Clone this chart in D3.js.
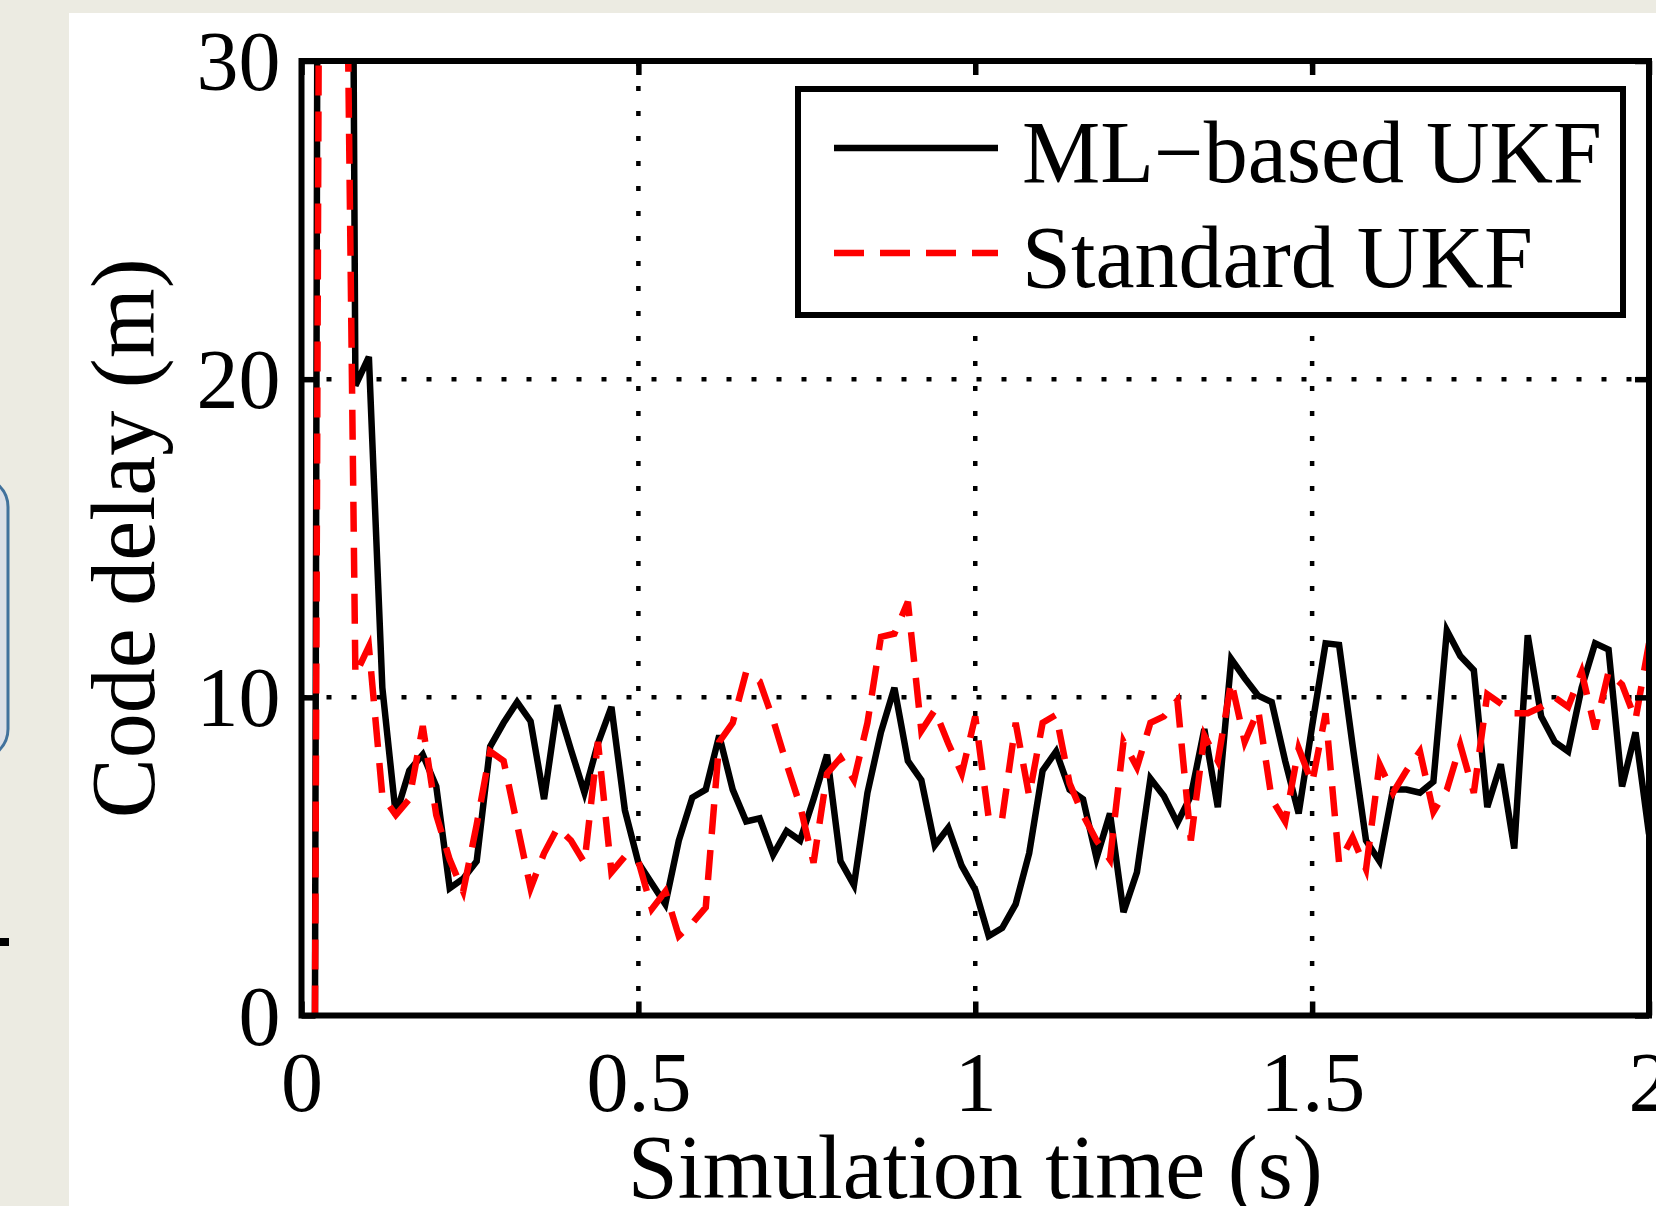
<!DOCTYPE html>
<html>
<head>
<meta charset="utf-8">
<script src="https://cdn.jsdelivr.net/npm/d3@7"></script>
<style>
  html, body { margin: 0; padding: 0; background: #ecebe2; }
  svg { display: block; }
  text { font-family: "Liberation Serif", "Times New Roman", serif; fill: #000; }
</style>
</head>
<body>
<svg id="chart"></svg>
<script>
// sample times (s), one every 0.02 s
const timeS = [
  0.02, 0.04, 0.06, 0.08, 0.10, 0.12, 0.14, 0.16, 0.18, 0.20,
  0.22, 0.24, 0.26, 0.28, 0.30, 0.32, 0.34, 0.36, 0.38, 0.40,
  0.42, 0.44, 0.46, 0.48, 0.50, 0.52, 0.54, 0.56, 0.58, 0.60,
  0.62, 0.64, 0.66, 0.68, 0.70, 0.72, 0.74, 0.76, 0.78, 0.80,
  0.82, 0.84, 0.86, 0.88, 0.90, 0.92, 0.94, 0.96, 0.98, 1.00,
  1.02, 1.04, 1.06, 1.08, 1.10, 1.12, 1.14, 1.16, 1.18, 1.20,
  1.22, 1.24, 1.26, 1.28, 1.30, 1.32, 1.34, 1.36, 1.38, 1.40,
  1.42, 1.44, 1.46, 1.48, 1.50, 1.52, 1.54, 1.56, 1.58, 1.60,
  1.62, 1.64, 1.66, 1.68, 1.70, 1.72, 1.74, 1.76, 1.78, 1.80,
  1.82, 1.84, 1.86, 1.88, 1.90, 1.92, 1.94, 1.96, 1.98, 2.00
];

// code delay (m), ML-based UKF
const mlUkf = [
  0, 180, 97, 19.8, 20.7, 10.3, 6.3, 7.7, 8.2, 7.2,
  4.0, 4.3, 4.85, 8.45, 9.2, 9.85, 9.25, 6.8, 9.75, 8.35,
  7.0, 8.55, 9.7, 6.45, 4.8, 4.15, 3.5, 5.5, 6.85, 7.1,
  8.8, 7.1, 6.1, 6.2, 5.05, 5.8, 5.5, 6.8, 8.2, 4.85,
  4.1, 7.0, 8.9, 10.3, 8.0, 7.4, 5.35, 5.9, 4.7, 3.95,
  2.5, 2.75, 3.5, 5.1, 7.7, 8.3, 7.1, 6.8, 4.95, 6.35,
  3.25, 4.5, 7.45, 6.9, 6.05, 6.9, 9.0, 6.55, 11.2, 10.6,
  10.05, 9.85, 8.0, 6.35, 9.1, 11.7, 11.65, 8.5, 5.5, 4.85,
  7.1, 7.1, 7.0, 7.35, 12.1, 11.3, 10.85, 6.55, 7.9, 5.25,
  11.95, 9.4, 8.6, 8.3, 10.3, 11.7, 11.5, 7.2, 8.9, 5.7
];

// code delay (m), standard UKF
const standardUkf = [
  0, 110, 47, 10.7, 11.6, 6.9, 6.3, 6.8, 9.1, 6.3,
  4.9, 3.9, 6.0, 8.3, 8.0, 6.0, 4.0, 5.1, 5.9, 5.5,
  4.8, 8.6, 4.5, 5.0, 4.85, 3.35, 3.9, 2.5, 2.9, 3.4,
  8.6, 9.2, 10.8, 10.5, 9.3, 7.9, 6.6, 4.8, 7.6, 8.1,
  7.4, 9.2, 11.9, 12.0, 13.0, 8.95, 9.6, 8.55, 7.6, 9.4,
  6.2, 6.2, 9.2, 6.9, 9.2, 9.45, 7.3, 6.3, 5.5, 4.9,
  8.6, 7.8, 9.2, 9.4, 9.9, 5.5, 8.8, 8.0, 10.5, 8.6,
  9.6, 6.8, 6.1, 8.4, 7.3, 9.5, 4.8, 5.6, 4.6, 7.9,
  7.0, 7.7, 8.3, 6.4, 7.1, 8.5, 7.0, 10.1, 9.8, 9.5,
  9.5, 9.7, 10.0, 9.7, 10.8, 9.0, 10.8, 10.4, 9.3, 11.7
];

const xTicks = [0, 0.5, 1, 1.5, 2];
const xTickLabels = ["0", "0.5", "1", "1.5", "2"];
const yTicks = [0, 10, 20, 30];
const yTickLabels = ["0", "10", "20", "30"];
const seriesNames = ["ML\u2212based UKF", "Standard UKF"];

const W = 1656, H = 1206;
const plot = { left: 301.5, right: 1649, top: 61, bottom: 1015.5 };
const lineWidth = 6.5;
const redDash = "30,16";

const svg = d3.select("#chart").attr("width", W).attr("height", H);

// slide backdrop and white panel the figure sits on
svg.append("rect").attr("width", W).attr("height", H).attr("fill", "#ecebe2");
svg.append("rect")
  .attr("x", 69).attr("y", 13)
  .attr("width", W - 69).attr("height", H - 13)
  .attr("fill", "#fff");

// edges of other slide shapes peeking in on the left
svg.append("rect")
  .attr("x", -60).attr("y", 477)
  .attr("width", 68).attr("height", 282)
  .attr("rx", 30)
  .attr("fill", "#dcdfe6")
  .attr("stroke", "#41719c")
  .attr("stroke-width", 3);
svg.append("rect")
  .attr("x", 0).attr("y", 938)
  .attr("width", 9).attr("height", 8)
  .attr("fill", "#000");

const x = d3.scaleLinear().domain([0, 2]).range([plot.left, plot.right]);
const y = d3.scaleLinear().domain([0, 30]).range([plot.bottom, plot.top]);

// dotted grid
const grid = svg.append("g")
  .attr("stroke", "#000")
  .attr("stroke-width", 4.5)
  .attr("stroke-dasharray", "5,20");

grid.selectAll(".gx")
  .data(xTicks.slice(1, -1))
  .join("line")
  .attr("class", "gx")
  .attr("x1", d => x(d)).attr("x2", d => x(d))
  .attr("y1", plot.top).attr("y2", plot.bottom);

grid.selectAll(".gy")
  .data(yTicks.slice(1, -1))
  .join("line")
  .attr("class", "gy")
  .attr("x1", plot.left).attr("x2", plot.right)
  .attr("y1", d => y(d)).attr("y2", d => y(d));

// data lines, clipped to the axes box
svg.append("clipPath").attr("id", "plot-clip")
  .append("rect")
  .attr("x", plot.left).attr("y", plot.top)
  .attr("width", plot.right - plot.left)
  .attr("height", plot.bottom - plot.top);

const rows = timeS.map((t, i) => ({ t: t, ml: mlUkf[i], std: standardUkf[i] }));

const lineFor = key => d3.line()
  .x(d => x(d.t))
  .y(d => y(d[key]));

const lines = svg.append("g").attr("clip-path", "url(#plot-clip)");

lines.append("path")
  .datum(rows)
  .attr("fill", "none")
  .attr("stroke", "#000")
  .attr("stroke-width", lineWidth)
  .attr("stroke-linejoin", "miter")
  .attr("d", lineFor("ml"));

lines.append("path")
  .datum(rows)
  .attr("fill", "none")
  .attr("stroke", "#ff0000")
  .attr("stroke-width", lineWidth)
  .attr("stroke-dasharray", redDash)
  .attr("d", lineFor("std"));

// axes: inward ticks on all four sides, labels only bottom/left
const tickLen = 14;

function styleTicks(g) {
  g.select(".domain").remove();
  g.selectAll(".tick line").attr("stroke", "#000").attr("stroke-width", 5.5);
}

const xAxis = svg.append("g")
  .attr("transform", `translate(0,${plot.bottom})`)
  .call(d3.axisBottom(x).tickValues(xTicks).tickSizeInner(-tickLen).tickSizeOuter(0)
    .tickFormat((d, i) => xTickLabels[i]))
  .call(styleTicks);
xAxis.selectAll(".tick text")
  .attr("y", 95).attr("dy", null)
  .attr("font-size", 84)
  .attr("font-family", "Liberation Serif, serif")
  .attr("fill", "#000");

const yAxis = svg.append("g")
  .attr("transform", `translate(${plot.left},0)`)
  .call(d3.axisLeft(y).tickValues(yTicks).tickSizeInner(-tickLen).tickSizeOuter(0)
    .tickFormat((d, i) => yTickLabels[i]))
  .call(styleTicks);
yAxis.selectAll(".tick text")
  .attr("x", -21).attr("dy", "0.34em")
  .attr("font-size", 84)
  .attr("font-family", "Liberation Serif, serif")
  .attr("fill", "#000");

svg.append("g")
  .attr("transform", `translate(0,${plot.top})`)
  .call(d3.axisTop(x).tickValues(xTicks).tickSizeInner(-tickLen).tickSizeOuter(0).tickFormat(""))
  .call(styleTicks);

svg.append("g")
  .attr("transform", `translate(${plot.right},0)`)
  .call(d3.axisRight(y).tickValues(yTicks).tickSizeInner(-tickLen).tickSizeOuter(0).tickFormat(""))
  .call(styleTicks);

// box
svg.append("rect")
  .attr("x", plot.left).attr("y", plot.top)
  .attr("width", plot.right - plot.left)
  .attr("height", plot.bottom - plot.top)
  .attr("fill", "none")
  .attr("stroke", "#000")
  .attr("stroke-width", 6);

// axis titles
svg.append("text")
  .attr("x", (plot.left + plot.right) / 2)
  .attr("y", 1198)
  .attr("text-anchor", "middle")
  .attr("font-size", 90)
  .text("Simulation time (s)");

svg.append("text")
  .attr("transform", `translate(154,${(plot.top + plot.bottom) / 2}) rotate(-90)`)
  .attr("text-anchor", "middle")
  .attr("font-size", 90)
  .text("Code delay (m)");

// legend
const legend = svg.append("g");
legend.append("rect")
  .attr("x", 798).attr("y", 89)
  .attr("width", 825).attr("height", 226)
  .attr("fill", "#fff")
  .attr("stroke", "#000")
  .attr("stroke-width", 6);

const legendRows = [
  { name: seriesNames[0], color: "#000", dash: null, y: 148 },
  { name: seriesNames[1], color: "#ff0000", dash: redDash, y: 253 }
];

legendRows.forEach(r => {
  legend.append("line")
    .attr("x1", 834).attr("x2", 998)
    .attr("y1", r.y).attr("y2", r.y)
    .attr("stroke", r.color)
    .attr("stroke-width", lineWidth)
    .attr("stroke-dasharray", r.dash);
  legend.append("text")
    .attr("x", 1022).attr("y", r.y + 34)
    .attr("font-size", 88)
    .text(r.name);
});
</script>
</body>
</html>
